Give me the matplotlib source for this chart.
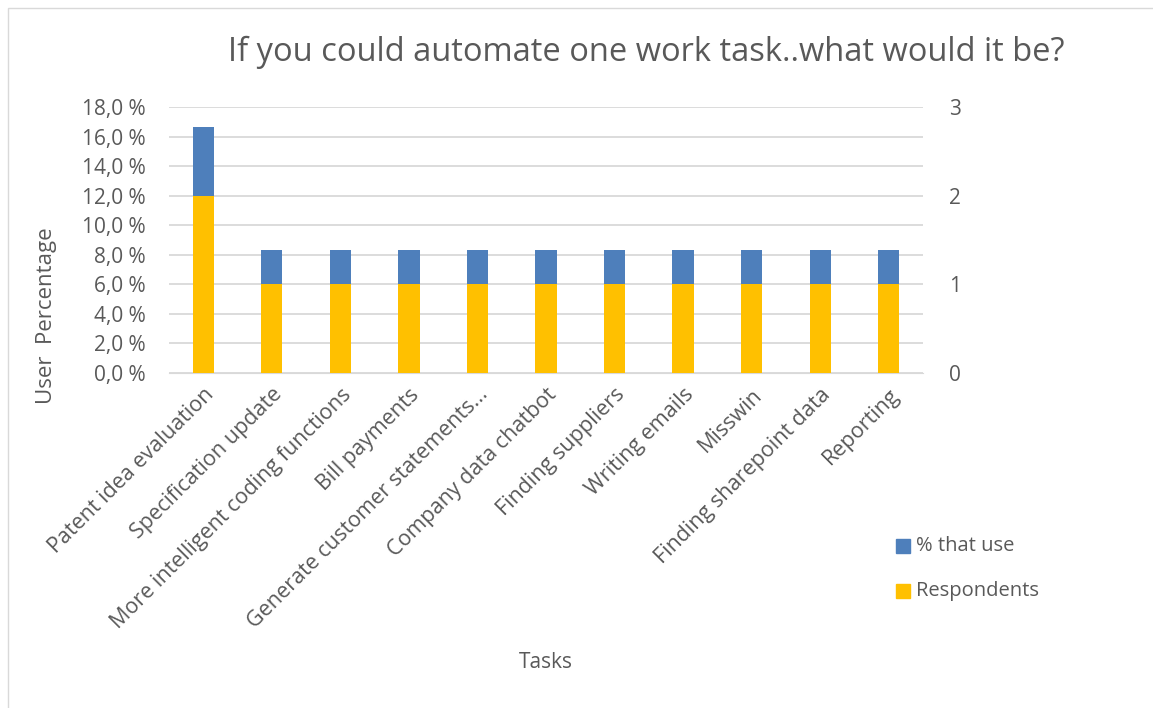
import matplotlib.pyplot as plt
from matplotlib.patches import Rectangle

# data
tasks = ["Patent idea evaluation", "Specification update", "More intelligent coding functions",
         "Bill payments", "Generate customer statements...", "Company data chatbot",
         "Finding suppliers", "Writing emails", "Misswin", "Finding sharepoint data", "Reporting"]
pct_use = [16.67, 8.33, 8.33, 8.33, 8.33, 8.33, 8.33, 8.33, 8.33, 8.33, 8.33]
respondents = [2, 1, 1, 1, 1, 1, 1, 1, 1, 1, 1]
left_ticks = [0, 2, 4, 6, 8, 10, 12, 14, 16, 18]
right_ticks = [0, 1, 2, 3]

BLUE = "#4e7fbb"
YELLOW = "#ffc000"
TXT = "#595959"
GRID = "#d9d9d9"

plt.rcParams['font.family'] = ['Open Sans', 'DejaVu Sans']

fig = plt.figure(figsize=(11.53, 7.08), dpi=100)
ax = fig.add_axes([169/1153, 1 - 373/708, (923-169)/1153, (373-107)/708])
ax2 = ax.twinx()

x = range(len(tasks))
w = 0.31
ax.bar(x, pct_use, width=w, color=BLUE, zorder=2)
ax2.bar(x, respondents, width=w, color=YELLOW, zorder=2)

ax.set_ylim(0, 18)
ax2.set_ylim(0, 3)
ax.set_xlim(-0.5, len(tasks) - 0.5)
ax.set_yticks(left_ticks)
ax.set_yticklabels([f"{v:.1f} %".replace(".", ",") for v in left_ticks])
ax2.set_yticks(right_ticks)
ax.yaxis.grid(True, color=GRID, lw=1.3, zorder=0)
ax.set_axisbelow(True)

for a in (ax, ax2):
    for s in a.spines.values():
        s.set_visible(False)
    a.tick_params(length=0, labelsize=15, colors=TXT)
ax.spines['bottom'].set_visible(True)
ax.spines['bottom'].set_color(GRID)
ax.tick_params(axis='y', pad=17)
ax2.tick_params(axis='y', pad=19)

ax.set_xticks(list(x))
ax.set_xticklabels(tasks, rotation=45, ha='right', rotation_mode='anchor', fontsize=15.5, color=TXT)
ax.tick_params(axis='x', pad=8)

fig.text(47/1153, 1 - 316/708, "User  Percentage", fontsize=16, color=TXT,
         rotation=90, ha='center', va='center')
fig.text(546/1153, 1 - 663/708, "Tasks", fontsize=15, color=TXT, ha='center', va='center')
fig.text(646/1153, 1 - 52/708, "If you could automate one work task..what would it be?",
         fontsize=23.5, color=TXT, ha='center', va='center')

# legend
for ypix, lab, col in [(546, "% that use", BLUE), (591, "Respondents", YELLOW)]:
    fig.patches.append(Rectangle((896/1153, 1 - (ypix + 7)/708), 14/1153, 14/708,
                                 transform=fig.transFigure, color=col))
    fig.text(916/1153, 1 - ypix/708, lab, fontsize=14.5, color=TXT, va='center')

# chart border
fig.patches.append(Rectangle((8/1153, -0.01), 1.02, 1 - 8/708 + 0.01, transform=fig.transFigure,
                             fill=False, ec=GRID, lw=1))

fig.savefig("out.png", dpi=100)
